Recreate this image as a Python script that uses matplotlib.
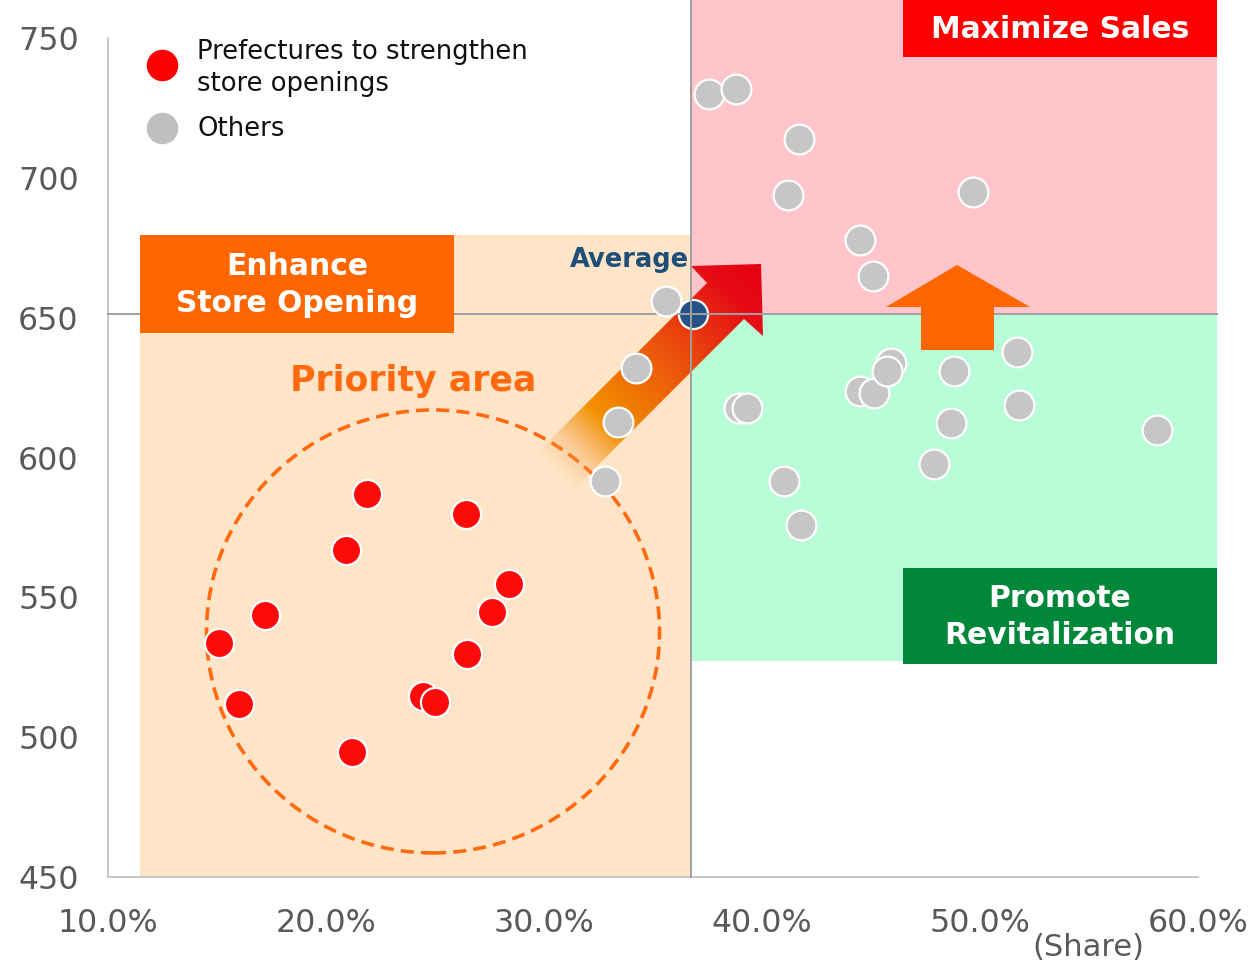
import numpy as np
import matplotlib
matplotlib.use("Agg")
import matplotlib.pyplot as plt
from matplotlib.patches import Rectangle, Ellipse, Polygon
from matplotlib.colors import to_rgb

# ---------------- data ----------------
red_share = [21.89, 26.42, 20.92, 28.41, 27.60, 17.20, 15.09, 26.48, 16.02, 24.46, 25.00, 21.19]
red_sales = [586.9, 579.8, 566.9, 554.8, 544.6, 543.7, 533.6, 529.6, 511.7, 514.8, 512.7, 494.6]

gray_share = [37.56, 38.80, 41.70, 41.20, 49.70, 44.50, 45.11, 35.60, 34.21, 33.39,
              32.81, 38.93, 39.31, 44.50, 45.13, 45.94, 45.72, 48.83, 51.72, 51.80,
              48.68, 47.91, 58.11, 41.02, 41.80]
gray_sales = [729.9, 731.8, 713.9, 693.8, 694.8, 677.7, 664.8, 655.9, 631.9, 612.6,
              591.7, 617.6, 617.6, 623.8, 623.2, 633.7, 631.0, 630.9, 637.6, 618.7,
              612.5, 597.6, 609.8, 591.7, 575.9]

avg_share = 36.85
avg_sales = 651.2

x_ticks = [10, 20, 30, 40, 50, 60]
x_tick_labels = ["10.0%", "20.0%", "30.0%", "40.0%", "50.0%", "60.0%"]
y_ticks = [450, 500, 550, 600, 650, 700, 750]
y_tick_labels = ["450", "500", "550", "600", "650", "700", "750"]

legend_labels = ["Prefectures to strengthen\nstore openings", "Others"]

# ---------------- layout helpers ----------------
W, H = 1256, 966
fig = plt.figure(figsize=(W / 100, H / 100), dpi=100)
fig.patch.set_facecolor("white")


def fx(px):
    return np.asarray(px, dtype=float) / W


def fy(py):
    return 1 - np.asarray(py, dtype=float) / H


ax = fig.add_axes([108 / W, 1 - 877 / H, 1090 / W, 839 / H])
ax.set_facecolor("none")

X_MIN, X_MAX, Y_MIN, Y_MAX = 10, 60, 450, 750
split_x = 36.74   # quadrant divider (x)
x_right = 60.87   # right edge of quadrant panels
y_top = 763.5     # top edge of figure in data units
peach_left, peach_top = 11.47, 679.5
green_bottom = 527.2

# quadrant backgrounds
ax.add_patch(Rectangle((split_x, avg_sales), x_right - split_x, y_top - avg_sales,
                       facecolor="#FFC5CA", edgecolor="none", zorder=0.5, clip_on=False))
ax.add_patch(Rectangle((split_x, green_bottom), x_right - split_x, avg_sales - green_bottom,
                       facecolor="#B8FDD7", edgecolor="none", zorder=0.5, clip_on=False))
ax.add_patch(Rectangle((peach_left, Y_MIN), split_x - peach_left, peach_top - Y_MIN,
                       facecolor="#FFE5C8", edgecolor="none", zorder=0.5, clip_on=False))

# priority area dashed ellipse
ax.add_patch(Ellipse((24.91, 537.8), 20.78, 158.4, facecolor="none", edgecolor="#FF6A10",
                     linewidth=2.6, linestyle=(0, (3.6, 2.0)), zorder=1))

# gradient arrow (pixel geometry)
poly_px = np.array([(536, 454), (707, 283), (691, 266), (761, 264), (763, 336),
                    (744, 319), (572.5, 490.5)])
x0, x1, y0, y1 = 528, 770, 256, 498
gx = np.linspace(x0, x1, 300)
gy = np.linspace(y0, y1, 300)
GX, GY = np.meshgrid(gx, gy)
S = (554.25, 472.25)
t = ((GX - S[0]) - (GY - S[1])) / np.sqrt(2) / 294.2
t = np.clip(t, 0, 1)
stops = [0.0, 0.10, 0.24, 0.34, 0.52, 0.70, 0.86, 1.0]
cols = ["#F8B060", "#F5A040", "#F39200", "#F07D00", "#EC5A0C", "#E8320F", "#E60A16", "#E60012"]
alphas = [0.0, 0.35, 1.0, 1.0, 1.0, 1.0, 1.0, 1.0]
rgb = np.array([to_rgb(c) for c in cols])
rgba = np.zeros(GX.shape + (4,))
for k in range(3):
    rgba[..., k] = np.interp(t, stops, rgb[:, k])
rgba[..., 3] = np.interp(t, stops, alphas)
im = ax.imshow(rgba, extent=(fx(x0), fx(x1), fy(y1), fy(y0)), origin="upper",
               transform=fig.transFigure, aspect="auto", interpolation="bilinear", zorder=2)
clip_poly = Polygon(np.column_stack([fx(poly_px[:, 0]), fy(poly_px[:, 1])]), closed=True,
                    transform=fig.transFigure)
im.set_clip_path(clip_poly)

# up arrow (orange)
up_px = np.array([(921, 350), (921, 307), (886, 307), (957, 265), (1030, 307), (994, 307), (994, 350)])
ax.add_patch(Polygon(np.column_stack([fx(up_px[:, 0]), fy(up_px[:, 1])]), closed=True,
                     transform=fig.transFigure, facecolor="#FF6600", edgecolor="none",
                     zorder=3.5, clip_on=False))

# average point and lines
ax.scatter([avg_share], [avg_sales], s=440, color="#265287", edgecolor="white",
           linewidth=1.6, zorder=2.6)
ax.plot([X_MIN, x_right], [avg_sales, avg_sales], color="#A0A0A0", lw=1.4, zorder=2.8, clip_on=False)
ax.plot([split_x, split_x], [Y_MIN, y_top], color="#A0A0A0", lw=1.4, zorder=2.8, clip_on=False)

# points
ax.scatter(gray_share, gray_sales, s=460, color="#C6C6C6", edgecolor="white",
           linewidth=1.6, zorder=4)
ax.scatter(red_share, red_sales, s=440, color="#FF0A0A", edgecolor="white",
           linewidth=1.6, zorder=4)

# axes styling
ax.set_xlim(X_MIN, X_MAX)
ax.set_ylim(Y_MIN, Y_MAX)
ax.set_xticks(x_ticks)
ax.set_xticklabels(x_tick_labels)
ax.set_yticks(y_ticks)
ax.set_yticklabels(y_tick_labels)
for side in ["top", "right"]:
    ax.spines[side].set_visible(False)
for side in ["left", "bottom"]:
    ax.spines[side].set_color("#C8C8C8")
    ax.spines[side].set_linewidth(1.4)
    ax.spines[side].set_zorder(0.6)
ax.tick_params(axis="both", length=0, labelsize=22.8, labelcolor="#595959")
ax.tick_params(axis="x", pad=22)
ax.tick_params(axis="y", pad=21)

# legend (manual)
ax.scatter([0.0495], [0.9678], s=470, color="#FF0000", transform=ax.transAxes, clip_on=False, zorder=6)
ax.scatter([0.0495], [0.8927], s=470, color="#BFBFBF", transform=ax.transAxes, clip_on=False, zorder=6)
ax.text(0.0817, 0.9640, legend_labels[0], transform=ax.transAxes, fontsize=18.6,
        color="#111111", va="center", ha="left", linespacing=1.3, zorder=6)
ax.text(0.0817, 0.8915, legend_labels[1], transform=ax.transAxes, fontsize=18.6,
        color="#111111", va="center", ha="left", zorder=6)

# labelled boxes
def box(x_a, y_a, x_b, y_b, color, label):
    fig.patches.append(Rectangle((fx(x_a), fy(y_b)), fx(x_b) - fx(x_a), fy(y_a) - fy(y_b),
                                 transform=fig.transFigure, facecolor=color, edgecolor="none",
                                 zorder=5))
    fig.text(fx((x_a + x_b) / 2), fy((y_a + y_b) / 2 + 1), label, color="white",
             fontsize=21.4, fontweight="bold", ha="center", va="center",
             linespacing=1.38, zorder=6)


box(903, 0, 1217, 57, "#FF0000", "Maximize Sales")
box(140, 235, 454, 333, "#FF6600", "Enhance\nStore Opening")
box(903, 568, 1217, 664, "#00873A", "Promote\nRevitalization")

fig.text(fx(413), fy(381), "Priority area", color="#FF6A10", fontsize=25,
         fontweight="bold", ha="center", va="center")
fig.text(fx(689), fy(260), "Average", color="#1F4E79", fontsize=18.5,
         fontweight="bold", ha="right", va="center")
fig.text(fx(1088), fy(948), "(Share)", color="#595959", fontsize=22,
         ha="center", va="center")

fig.savefig("out.png", dpi=100)
